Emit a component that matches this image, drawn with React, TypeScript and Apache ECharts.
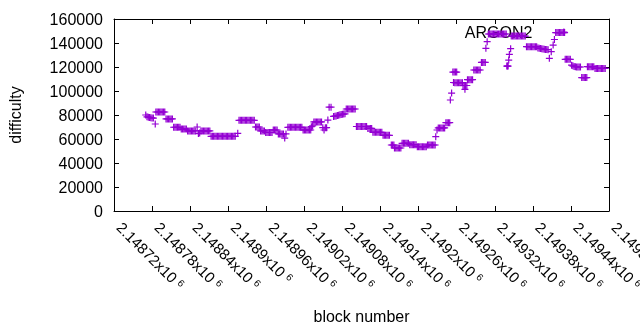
import React, { useEffect, useRef } from "react";
import * as echarts from "echarts";

// ---- data (block number, difficulty) ----
const seriesName = "ARGON2";
const xMin = 2148720;
const xMax = 2149500;
const xStep = 60;
const yMin = 0;
const yMax = 160000;
const yStep = 20000;

const argon2Points: [number, number][] = [
  [2148770, 80000],
  [2148772, 78500], [2148774, 78200], [2148776, 78000], [2148778, 77800], [2148780, 77600], [2148782, 77400],
  [2148785, 72500],
  [2148786, 82500], [2148788, 82500], [2148790, 82500], [2148792, 82500], [2148794, 82500], [2148796, 82500], [2148798, 82500], [2148800, 82500],
  [2148802, 76700], [2148804, 76700], [2148806, 76700], [2148808, 76700], [2148810, 76700], [2148812, 76700],
  [2148814, 69800], [2148816, 69800], [2148818, 69800], [2148820, 69800], [2148822, 69800], [2148824, 69800],
  [2148826, 68300], [2148828, 68300], [2148830, 68300], [2148832, 68300], [2148834, 68300],
  [2148836, 66700], [2148838, 66700], [2148840, 66700], [2148842, 66700], [2148844, 66700], [2148846, 66700], [2148848, 66700],
  [2148851, 70000], [2148853, 64500], [2148855, 65000],
  [2148857, 66700], [2148859, 66700], [2148861, 66700], [2148863, 66700], [2148865, 66700], [2148867, 66700], [2148869, 66700], [2148871, 66700],
  [2148873, 62200], [2148875, 62200], [2148877, 62200], [2148879, 62200], [2148881, 62200], [2148883, 62200], [2148885, 62200], [2148887, 62200], [2148889, 62200], [2148891, 62200],
  [2148893, 62200], [2148895, 62200], [2148897, 62200], [2148899, 62200], [2148901, 62200], [2148903, 62200], [2148905, 62200], [2148907, 62200], [2148909, 62200], [2148911, 62200],
  [2148915, 64700],
  [2148917, 75600], [2148919, 75600], [2148921, 75600], [2148923, 75600], [2148925, 75600], [2148927, 75600], [2148929, 75600], [2148931, 75600], [2148933, 75600], [2148935, 75600], [2148937, 75600], [2148939, 75600], [2148941, 75600],
  [2148943, 70000], [2148945, 70000], [2148947, 70000], [2148949, 70000],
  [2148951, 66700], [2148953, 66700], [2148955, 66700], [2148957, 66700],
  [2148959, 65400], [2148961, 65400], [2148963, 65400], [2148965, 65400], [2148967, 65400], [2148969, 65400],
  [2148971, 67500], [2148973, 67500], [2148975, 67500], [2148977, 67500],
  [2148979, 64200], [2148981, 64200], [2148983, 64200], [2148985, 64200], [2148987, 64200], [2148989, 60800], [2148991, 64200],
  [2148994, 69700], [2148996, 69700], [2148998, 69700], [2149000, 69700], [2149002, 69700], [2149004, 69700], [2149006, 69700], [2149008, 69700], [2149010, 69700], [2149012, 69700], [2149014, 69700], [2149016, 69700],
  [2149018, 67500], [2149020, 67500], [2149022, 67500], [2149024, 67500], [2149026, 67500], [2149028, 67500], [2149030, 67500],
  [2149031, 70300], [2149033, 71000],
  [2149035, 74200], [2149037, 74200], [2149039, 74200], [2149041, 74200], [2149043, 74200], [2149045, 74200], [2149047, 74200],
  [2149049, 69400], [2149051, 67500], [2149053, 69400], [2149055, 69400],
  [2149057, 75800],
  [2149059, 86500], [2149062, 86500],
  [2149066, 78800], [2149068, 79000], [2149070, 79200], [2149072, 79500], [2149074, 79800], [2149076, 80200], [2149078, 80500], [2149080, 80600], [2149082, 80800], [2149084, 81000],
  [2149086, 85000], [2149088, 85000], [2149090, 85000], [2149092, 85000], [2149094, 85000], [2149096, 85000], [2149098, 85000], [2149100, 85000],
  [2149102, 70400], [2149104, 70400], [2149106, 70400], [2149108, 70400], [2149110, 70400], [2149112, 70400], [2149114, 70400], [2149116, 70400], [2149118, 70400],
  [2149120, 68800], [2149122, 68800], [2149124, 68800], [2149126, 68800],
  [2149128, 65600], [2149130, 65600], [2149132, 65600], [2149134, 65600], [2149136, 65600], [2149138, 65600], [2149140, 65600], [2149142, 65600],
  [2149144, 63100], [2149146, 63100], [2149148, 63100], [2149150, 63100], [2149152, 63100], [2149154, 63100],
  [2149157, 55000], [2149159, 55000], [2149161, 55000],
  [2149162, 52500], [2149164, 52500], [2149166, 52500], [2149168, 52500], [2149170, 52500], [2149172, 52500],
  [2149174, 56400], [2149176, 56400], [2149178, 56400], [2149180, 56400], [2149182, 56400], [2149184, 56400],
  [2149186, 55300], [2149188, 55300], [2149190, 55300], [2149192, 55300], [2149194, 55300], [2149196, 55300],
  [2149198, 53600], [2149200, 53600], [2149202, 53600], [2149204, 53600], [2149206, 53600], [2149208, 53600], [2149210, 53600], [2149212, 53600],
  [2149214, 55000], [2149216, 55000], [2149218, 55000], [2149220, 55000], [2149222, 55000], [2149224, 55000], [2149226, 55000],
  [2149227, 61900], [2149229, 67500],
  [2149231, 69200], [2149233, 69200], [2149235, 69200], [2149237, 69200], [2149239, 69200], [2149241, 69200],
  [2149243, 73600], [2149245, 73600], [2149247, 73600], [2149249, 73600],
  [2149250, 92500], [2149252, 98300], [2149255, 107100],
  [2149254, 115800], [2149256, 115800], [2149258, 115800], [2149260, 115800],
  [2149257, 106900], [2149259, 106900], [2149261, 106900], [2149263, 106900], [2149265, 106900], [2149267, 106900], [2149269, 106900],
  [2149270, 104600], [2149272, 104600], [2149274, 104600], [2149276, 104600], [2149273, 101400],
  [2149277, 109400], [2149279, 109400], [2149281, 109400], [2149283, 109400], [2149285, 109400],
  [2149287, 117500], [2149289, 117500], [2149291, 117500], [2149293, 117500], [2149295, 117500], [2149297, 117500],
  [2149299, 123800], [2149301, 123800], [2149303, 123800], [2149305, 123800],
  [2149306, 135600], [2149308, 141100],
  [2149310, 147500], [2149312, 147500], [2149314, 147500], [2149316, 147500], [2149318, 147500], [2149320, 147500], [2149322, 147500], [2149324, 147500],
  [2149326, 147500], [2149328, 147500], [2149330, 147500], [2149332, 147500], [2149334, 147500], [2149336, 147500], [2149338, 147500],
  [2149339, 120800], [2149340, 120800], [2149341, 120800], [2149342, 125800], [2149343, 130500], [2149345, 135300],
  [2149346, 145800], [2149348, 145800], [2149350, 145800], [2149352, 145800], [2149354, 145800], [2149356, 145800], [2149358, 145800], [2149360, 145800], [2149362, 145800], [2149364, 145800], [2149366, 145800], [2149368, 145800],
  [2149370, 136900], [2149372, 136900], [2149374, 136900], [2149376, 136900], [2149378, 136900], [2149380, 136900], [2149382, 136900], [2149384, 136900], [2149386, 136900],
  [2149388, 135800], [2149390, 135600], [2149392, 135400], [2149394, 135200], [2149396, 135000], [2149398, 134800], [2149400, 134600], [2149402, 134500], [2149404, 134400],
  [2149406, 127200], [2149409, 132800], [2149412, 138300], [2149414, 142900],
  [2149416, 148700], [2149418, 148700], [2149420, 148700], [2149422, 148700], [2149424, 148700], [2149426, 148700], [2149428, 148700], [2149430, 148700],
  [2149431, 126400], [2149433, 126400], [2149435, 126400], [2149437, 126400], [2149439, 126400],
  [2149441, 121500], [2149443, 121000], [2149445, 120500], [2149447, 120300], [2149449, 120000], [2149451, 120000], [2149453, 120000], [2149455, 120000],
  [2149457, 111200], [2149459, 111200], [2149461, 111200], [2149463, 111200], [2149465, 111200],
  [2149466, 120300], [2149468, 120300], [2149470, 120300], [2149472, 120300], [2149474, 120300], [2149476, 120300],
  [2149478, 118800], [2149480, 118800], [2149482, 118800], [2149484, 118800], [2149486, 118800], [2149488, 118800], [2149490, 118800], [2149492, 118800], [2149494, 118800],
];

const FONT = "Liberation Sans";
const FS = 16;
const PURPLE = "#9400d3";
const PLUS = "path://M0,3.5L7,3.5M3.5,0L3.5,7";

const fmtBlock = (v: number) => `${Number((v / 1e6).toPrecision(6))}`;

export default function App() {
  const ref = useRef<HTMLDivElement>(null);
  useEffect(() => {
    if (!ref.current) return;
    const chart = echarts.init(ref.current, undefined, { renderer: "svg" });
    const axisLine = { show: true, onZero: false, lineStyle: { color: "#000", width: 1 } };
    const axisTick = { show: true, inside: true, length: 5, lineStyle: { color: "#000", width: 1 } };
    chart.setOption({
      animation: false,
      textStyle: { fontFamily: FONT, color: "#000" },
      grid: { left: 114, right: 31, top: 19, bottom: 119, containLabel: false, outerBoundsMode: "none" },
      legend: {
        data: [seriesName],
        right: 67,
        top: 19,
        align: "right",
        icon: PLUS,
        itemWidth: 7,
        itemHeight: 7,
        itemStyle: { color: PURPLE, borderColor: PURPLE, borderWidth: 1.2 },
        textStyle: { fontFamily: FONT, fontSize: FS, color: "#000", padding: [0, 23, 0, 0] },
        z: 1,
      },
      xAxis: [
        {
          type: "value",
          position: "bottom",
          min: xMin,
          max: xMax,
          interval: xStep,
          axisLine,
          axisTick,
          splitLine: { show: false },
          axisLabel: {
            show: true,
            rotate: -45,
            margin: 19,
            verticalAlign: "bottom",
            color: "#000",
            hideOverlap: false,
            formatter: (v: number) => `{a|${fmtBlock(v)}x10}{b|6}`,
            rich: {
              a: { fontFamily: FONT, fontSize: 15, color: "#000" },
              b: { fontFamily: FONT, fontSize: 10, color: "#000", verticalAlign: "top", padding: [0, 0, 0, 4] },
            },
          },
          name: "block number",
          nameLocation: "middle",
          nameGap: 97,
          nameTextStyle: { fontFamily: FONT, fontSize: FS, color: "#000" },
        },
        {
          type: "value",
          position: "top",
          min: xMin,
          max: xMax,
          interval: xStep,
          axisLine,
          axisTick,
          splitLine: { show: false },
          axisLabel: { show: false },
        },
      ],
      yAxis: [
        {
          type: "value",
          position: "left",
          min: yMin,
          max: yMax,
          interval: yStep,
          axisLine,
          axisTick,
          splitLine: { show: false },
          axisLabel: {
            margin: 11,
            fontFamily: FONT,
            fontSize: FS,
            color: "#000",
            formatter: (v: number) => String(v),
          },
          name: "difficulty",
          nameLocation: "middle",
          nameRotate: 90,
          nameGap: 91,
          nameTextStyle: { fontFamily: FONT, fontSize: FS, color: "#000" },
        },
        {
          type: "value",
          position: "right",
          min: yMin,
          max: yMax,
          interval: yStep,
          axisLine,
          axisTick,
          splitLine: { show: false },
          axisLabel: { show: false },
        },
      ],
      series: [
        {
          name: seriesName,
          type: "scatter",
          xAxisIndex: 0,
          yAxisIndex: 0,
          data: argon2Points,
          symbol: PLUS,
          symbolSize: 7,
          itemStyle: { color: PURPLE, borderColor: PURPLE, borderWidth: 1.2, opacity: 1 },
          z: 5,
        },
      ],
    });
    return () => chart.dispose();
  }, []);
  return (
    <div
      ref={ref}
      style={{ position: "fixed", left: 0, top: 0, width: 640, height: 330 }}
    />
  );
}
